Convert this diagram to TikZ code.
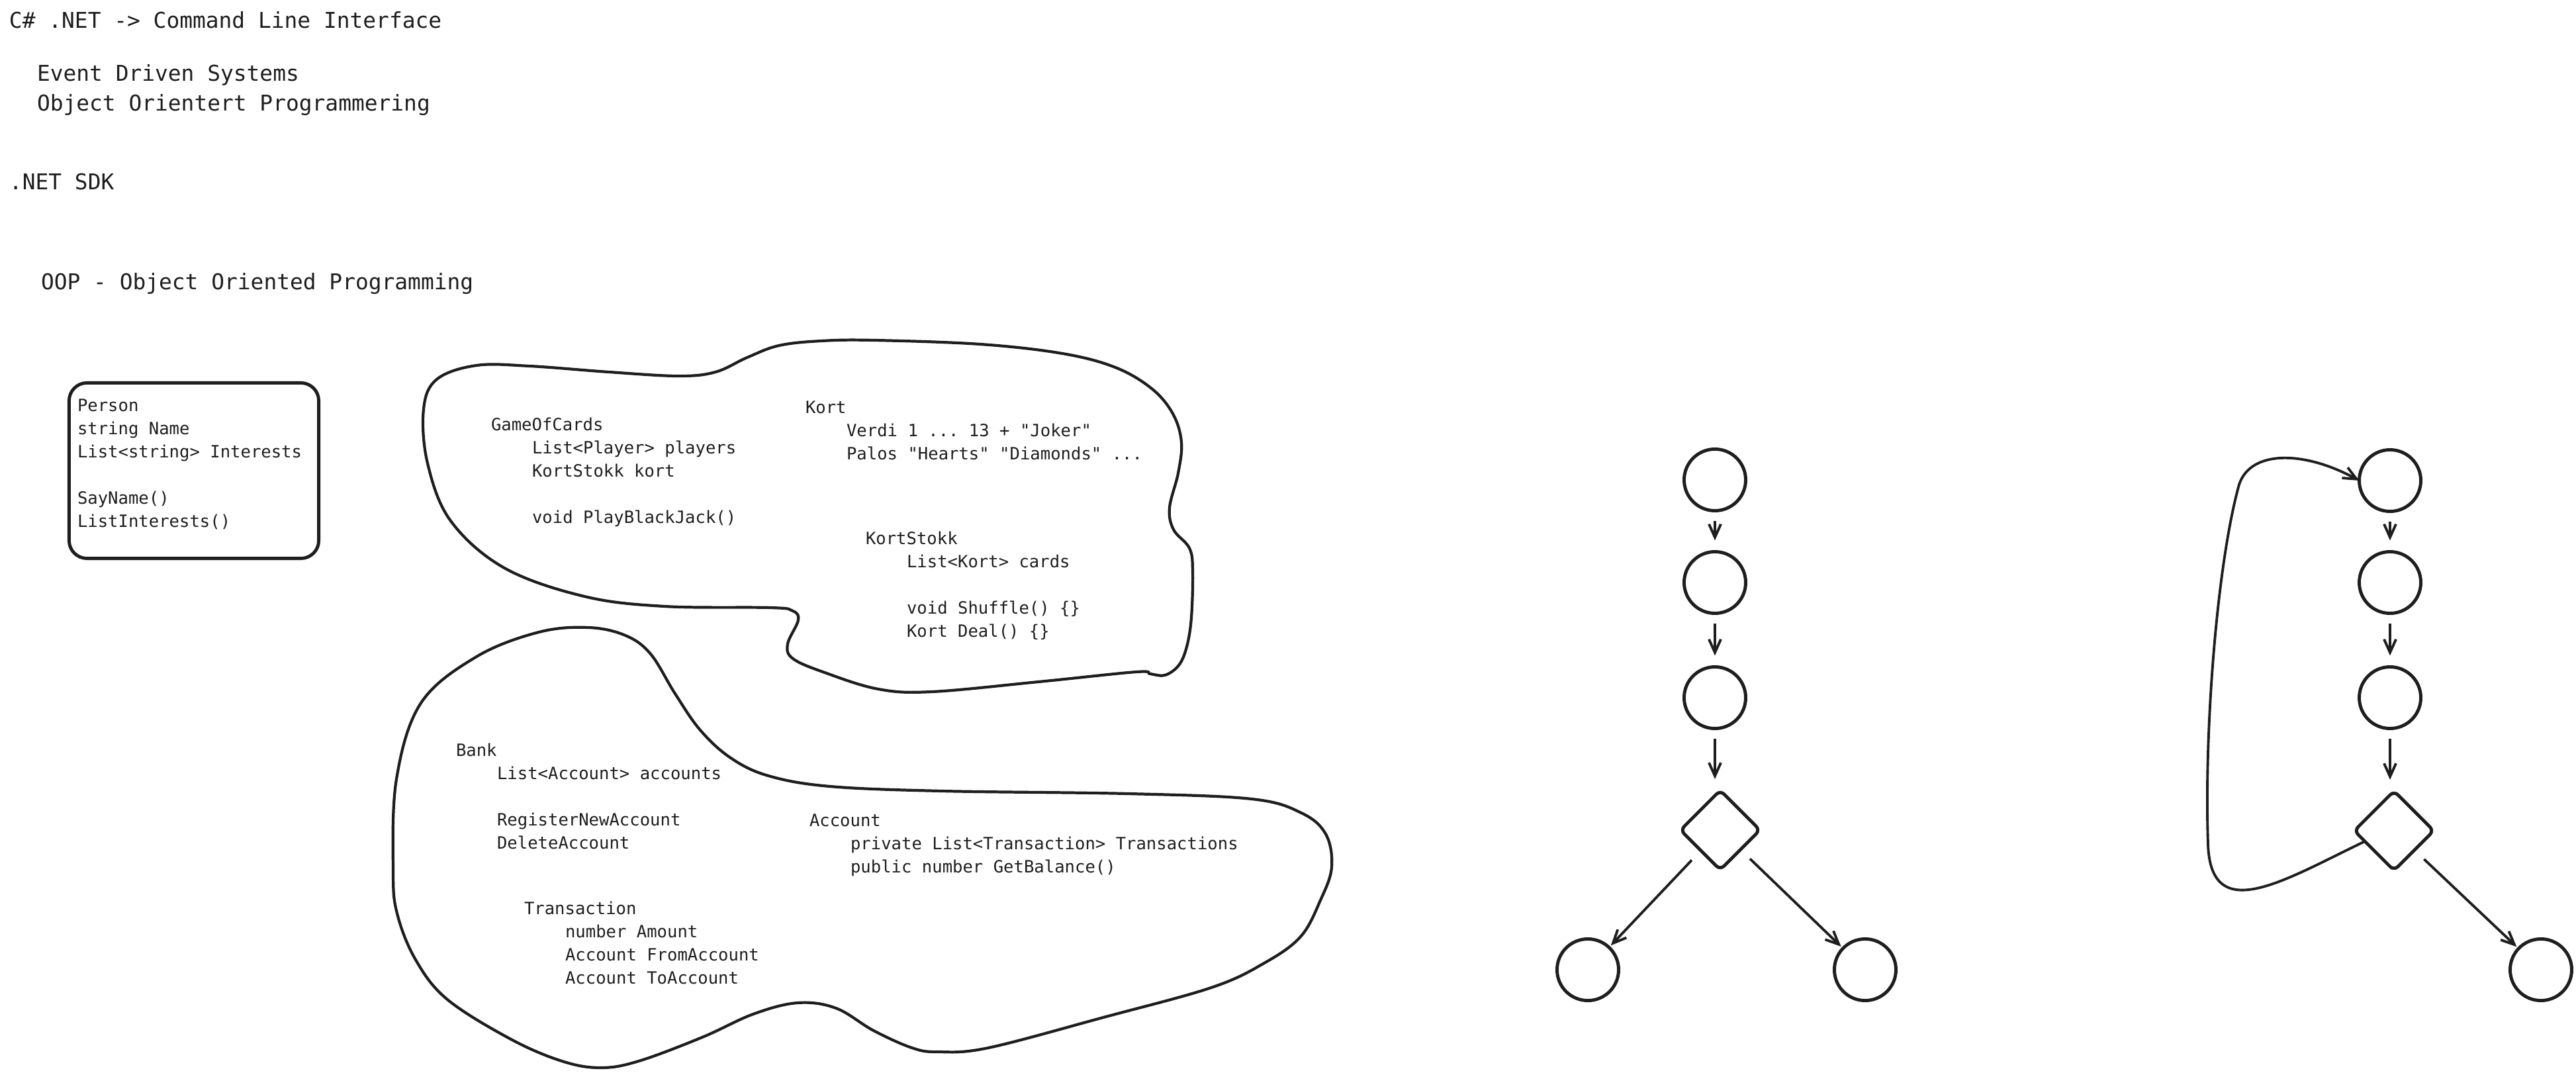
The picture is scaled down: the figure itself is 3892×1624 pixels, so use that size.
\documentclass[tikz,border=0pt]{standalone}
\usepackage{fontspec}
\setmonofont{DejaVu Sans Mono}
\usepackage{tikz}
\usetikzlibrary{arrows.meta,positioning,shapes.geometric}

\definecolor{ink}{HTML}{1E1E1E}
\newcommand{\bigtxt}{\ttfamily\fontsize{9.35pt}{12.52pt}\selectfont}
\newcommand{\smalltxt}{\ttfamily\fontsize{7.28pt}{9.96pt}\selectfont}
\newcommand{\ind}{\hspace*{0.62cm}}

\begin{document}
\begin{tikzpicture}[
            x=0.01cm,y=-0.01cm,
            >={Straight Barb[length=.2cm,width=.18cm]},
            every node/.style={inner sep=0,outer sep=0},
            heading/.style={font=\bigtxt,anchor=base west,text=ink},
            code/.style={font=\smalltxt,anchor=north west,align=left,text=ink},
            blob/.style={draw=ink,line width=1.2pt},
            classbox/.style={draw=ink,line width=1.4pt,rounded corners=.27cm,minimum width=3.77cm,minimum height=2.65cm},
            state/.style={draw=ink,circle,line width=1.4pt,minimum size=.93cm},
            choice/.style={draw=ink,diamond,line width=1.4pt,rounded corners=.08cm,minimum width=1.2cm,minimum height=1.2cm},
            flow/.style={draw=ink,->,line width=1.1pt,shorten <=.15cm,shorten >=.17cm},
            branch/.style={flow,shorten <=.2cm,shorten >=.04cm}
          ]
          \useasboundingbox (0,0) rectangle (3892,1624);

          %notes
          \node[heading] (title) at (14,42) {C\# .NET -> Command Line Interface};
          \node[heading] (events) at (56,123) {Event Driven Systems};
          \node[heading] (oopno) at (56,167) {Object Orientert Programmering};
          \node[heading] (sdk) at (14,286) {.NET SDK};
          \node[heading] (oop) at (62,437) {OOP - Object Oriented Programming};

          %person class
          \node[classbox] (person) at (293,711) {};
          \node[code] (persontxt) at (117,603) {Person\\string Name\\List<string> Interests\\[\baselineskip]SayName()\\ListInterests()};

          %card game blob
          \draw[blob] plot[smooth cycle,tension=.6] coordinates {(640,618) (660,573) (720,552) (800,553) (920,562) (1025,568) (1081,562) (1129,540) (1177,522) (1241,515) (1321,514) (1481,520) (1605,534) (1685,555) (1740,587) (1772,625) (1785,668) (1780,715) (1767,767) (1773,800) (1797,828) (1802,862) (1800,933) (1793,977) (1781,1005) (1760,1020) (1738,1018) (1717,1015) (1569,1030) (1408,1045) (1327,1041) (1246,1016) (1198,995) (1190,973) (1206,937) (1198,923) (1165,918) (1004,916) (883,901) (762,858) (681,787) (646,700)};
          \node[code] (game) at (742,631) {GameOfCards\\\ind List<Player> players\\\ind KortStokk kort\\[\baselineskip]\ind void PlayBlackJack()};
          \node[code] (kort) at (1217,606) {Kort\\\ind Verdi 1 ... 13 + "Joker"\\\ind Palos "Hearts" "Diamonds" ...};
          \node[code] (stokk) at (1308,803) {KortStokk\\\ind List<Kort> cards\\[\baselineskip]\ind void Shuffle() \{\}\\\ind Kort Deal() \{\}};

          %bank blob
          \draw[blob] plot[smooth cycle,tension=.6] coordinates {(889,948) (945,960) (983,988) (1020,1048) (1058,1103) (1104,1145) (1161,1172) (1254,1188) (1423,1195) (1704,1199) (1891,1207) (1966,1228) (2003,1260) (2012,1310) (1995,1360) (1965,1415) (1910,1455) (1830,1492) (1667,1537) (1493,1583) (1417,1589) (1378,1583) (1320,1557) (1263,1523) (1205,1515) (1138,1532) (1061,1567) (965,1603) (907,1613) (849,1603) (772,1570) (676,1510) (628,1450) (600,1380) (594,1315) (599,1177) (636,1062) (720,992) (814,955)};
          \node[code] (bank) at (689,1123) {Bank\\\ind List<Account> accounts\\[\baselineskip]\ind RegisterNewAccount\\\ind DeleteAccount};
          \node[code] (account) at (1223,1230) {Account\\\ind private List<Transaction> Transactions\\\ind public number GetBalance()};
          \node[code] (trans) at (792,1362) {Transaction\\\ind number Amount\\\ind Account FromAccount\\\ind Account ToAccount};

          %flow with branch
          \node[state] (f1a) at (2591,725) {};
          \node[state] (f1b) at (2591,880) {};
          \node[state] (f1c) at (2591,1054) {};
          \node[choice] (f1d) at (2599,1254) {};
          \node[state] (f1l) at (2399,1465) {};
          \node[state] (f1r) at (2818,1465) {};
          \draw[flow] (f1a) -- (f1b);
          \draw[flow] (f1b) -- (f1c);
          \draw[flow] (f1c) -- (f1c |- f1d.north);
          \draw[branch] (f1d) -- (f1l);
          \draw[branch] (f1d) -- (f1r);

          %flow with loop
          \node[state] (f2a) at (3611,726) {};
          \node[state] (f2b) at (3611,880) {};
          \node[state] (f2c) at (3611,1054) {};
          \node[choice] (f2d) at (3617,1255) {};
          \node[state] (f2r) at (3839,1465) {};
          \draw[flow] (f2a) -- (f2b);
          \draw[flow] (f2b) -- (f2c);
          \draw[flow] (f2c) -- (f2c |- f2d.north);
          \draw[branch] (f2d) -- (f2r);
          \draw[flow,shorten <=0pt,shorten >=0pt] (f2d.200) .. controls (3450,1330) and (3340,1400) .. (3336,1275) .. controls (3330,1100) and (3350,850) .. (3383,732) .. controls (3400,680) and (3480,680) .. (f2a.west);

      \end{tikzpicture}
\end{document}
